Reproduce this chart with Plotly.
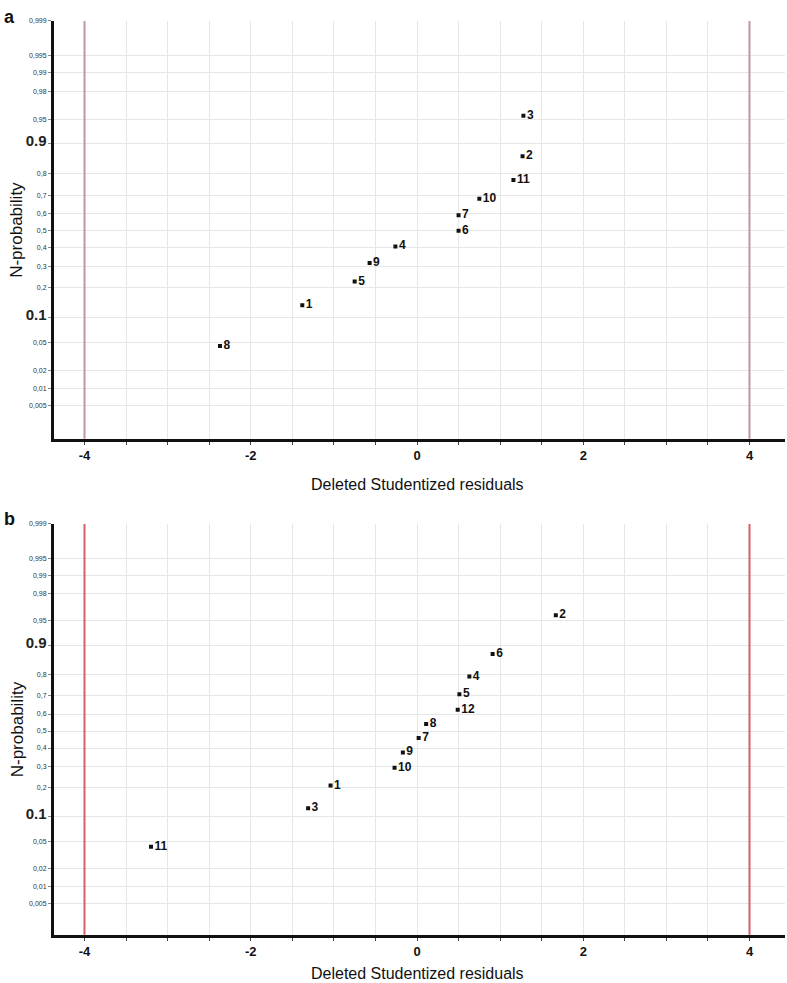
import plotly.graph_objects as go
from statistics import NormalDist

nd = NormalDist()

# panel a: run id, deleted studentized residual, normal probability
a_ids = ["8", "1", "5", "9", "4", "6", "7", "10", "11", "2", "3"]
a_resid = [-2.37, -1.38, -0.75, -0.57, -0.26, 0.50, 0.50, 0.75, 1.16, 1.27, 1.28]
a_prob = [0.045, 0.136, 0.227, 0.318, 0.409, 0.500, 0.591, 0.682, 0.773, 0.864, 0.955]

# panel b
b_ids = ["11", "3", "1", "10", "9", "7", "8", "12", "5", "4", "6", "2"]
b_resid = [-3.20, -1.31, -1.04, -0.27, -0.17, 0.02, 0.11, 0.49, 0.51, 0.63, 0.91, 1.67]
b_prob = [0.042, 0.125, 0.208, 0.292, 0.375, 0.458, 0.542, 0.625, 0.708, 0.792, 0.875, 0.958]

prob_ticks = [0.005, 0.01, 0.02, 0.05, 0.1, 0.2, 0.3, 0.4, 0.5, 0.6, 0.7, 0.8,
              0.9, 0.95, 0.98, 0.99, 0.995, 0.999]
x_ticks = [-4, -3.5, -3, -2.5, -2, -1.5, -1, -0.5, 0, 0.5, 1, 1.5, 2, 2.5, 3, 3.5, 4]
x_labels = ["-4", "-2", "0", "2", "4"]
limit_lines = [-4, 4]


def z(p):
    return nd.inv_cdf(p)


def prob_label(p):
    if p in (0.1, 0.9):
        return "<b><span style='font-size:15px;color:#222'>%s</span></b>" % p
    return str(p).replace(".", ",")


def x_label(v):
    s = str(int(v)) if v == int(v) else ""
    return "<b>%s</b>" % s if s in x_labels else ""


W, H = 787, 983
L, R = 54, 2
PW = W - L - R
# horizontal scale: px of x=0 and px per unit
X0, XS = 417.0, 83.125
x_range = [(L - X0) / XS, (W - R - X0) / XS]
ZTOP = z(0.999)

fig = go.Figure()

# (ids, x, p, axis suffix, top px, bottom px, px of p=0.5, line colour, title y px)
panels = [
    (a_ids, a_resid, a_prob, "", 17, 436.5, 227.7, "#be97a6", 482),
    (b_ids, b_resid, b_prob, "2", 522, 934.5, 730.0, "#d85f6a", 973),
]

font = "Liberation Sans, Arial, sans-serif"

for ids, resid, prob, n, top, bot, mid, lc, ty in panels:
    dom = [1 - bot / H, 1 - top / H]
    zs = (mid - top) / ZTOP
    y_range = [-(bot - mid) / zs, ZTOP]
    fig.add_trace(go.Scatter(
        x=resid, y=[z(p) for p in prob],
        mode="markers+text", text=ids, textposition="middle right",
        textfont=dict(size=12, color="#111", family=font, weight="bold"),
        marker=dict(symbol="square", size=4, color="#111"),
        xaxis="x" + n, yaxis="y" + n, showlegend=False, hoverinfo="skip",
    ))
    fig.update_layout(**{
        "xaxis" + n: dict(
            domain=[0.0, 1.0], range=x_range, anchor="y" + n,
            tickvals=x_ticks, ticktext=[x_label(v) for v in x_ticks],
            ticks="outside", ticklen=3, tickcolor="#444",
            tickfont=dict(size=13, color="#111", family=font),
            showgrid=True, gridcolor="#e6e6e6", gridwidth=1, zeroline=False,
            showline=True, linecolor="#111", linewidth=3,
        ),
        "yaxis" + n: dict(
            domain=dom, range=y_range, anchor="x" + n,
            tickvals=[z(p) for p in prob_ticks],
            ticktext=[prob_label(p) for p in prob_ticks],
            ticks="outside", ticklen=3, tickcolor="#888",
            tickfont=dict(size=7, color="#333", family=font),
            showgrid=True, gridcolor="#e6e6e6", gridwidth=1, zeroline=False,
            showline=True, linecolor="#111", linewidth=3,
        ),
    })
    for v in limit_lines:
        fig.add_shape(type="line", x0=v, x1=v, y0=0, y1=1,
                      xref="x" + n, yref="y" + n + " domain",
                      line=dict(color=lc, width=2))
    fig.add_annotation(text="N-probability", textangle=-90,
                       x=(17 - L) / PW, xref="paper", xanchor="center",
                       y=(dom[0] + dom[1]) / 2, yref="paper", yanchor="middle",
                       showarrow=False, font=dict(size=17, color="#111", family=font))
    fig.add_annotation(text="Deleted Studentized residuals",
                       x=(X0 - L) / PW, xref="paper",
                       y=1 - ty / H, yref="paper", yanchor="middle", showarrow=False,
                       font=dict(size=16, color="#111", family=font))

fig.add_annotation(text="<b>a</b>", x=(2 - L) / PW, xref="paper", xanchor="left",
                   y=1 - 1 / H, yref="paper", yanchor="top", showarrow=False,
                   font=dict(size=18, color="#111", family=font))
fig.add_annotation(text="<b>b</b>", x=(2 - L) / PW, xref="paper", xanchor="left",
                   y=1 - 517 / H, yref="paper", yanchor="middle", showarrow=False,
                   font=dict(size=18, color="#111", family=font))

fig.update_layout(
    width=W, height=H,
    margin=dict(l=L, r=R, t=0, b=0),
    plot_bgcolor="white", paper_bgcolor="white",
    font=dict(family=font),
)

fig.write_html("out.html", config={"displayModeBar": False},
               post_script="document.body.style.margin='0';")
